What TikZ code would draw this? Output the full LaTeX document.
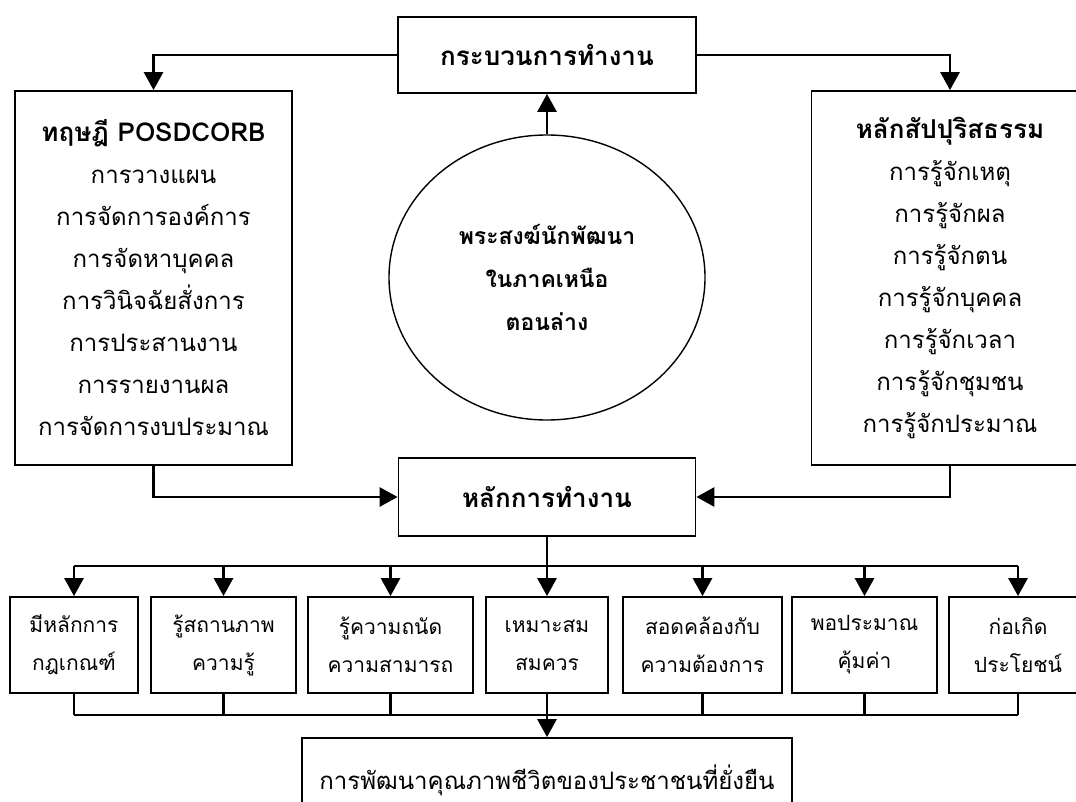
\documentclass[tikz,border=0pt]{standalone}
\usepackage{fontspec}
\setmainfont[Script=Thai]{Loma}
\usetikzlibrary{arrows.meta,shapes.geometric}
\begin{document}
\begin{tikzpicture}[x=1pt,y=-1pt,
  box/.style={draw, line width=1.8pt, rectangle, inner sep=0pt, align=center},
  conn/.style={line width=2.8pt},
  arr/.style={conn, -{Triangle[length=18pt,width=19pt]}},
  big/.style={font=\fontsize{24}{42}\selectfont},
  small/.style={font=\fontsize{21}{38}\selectfont},
  hd/.style={font=\fontsize{26}{42}\selectfont\bfseries}
]
\path[use as bounding box, clip] (0,0) rectangle (1076,802);
\fill[white] (0,0) rectangle (1076,802);

\node[box, hd, minimum width=298pt, minimum height=76pt] (T) at (547,55) {กระบวนการทำงาน};
\node[box, big, minimum width=277pt, minimum height=374pt] (L) at (153.5,278)
  {{\fontsize{26}{42}\selectfont\bfseries ทฤษฎี POSDCORB}\\การวางแผน\\การจัดการองค์การ\\การจัดหาบุคคล\\การวินิจฉัยสั่งการ\\การประสานงาน\\การรายงานผล\\การจัดการงบประมาณ};
\node[box, big, minimum width=277pt, minimum height=374pt] (R) at (950,278)
  {{\fontsize{26}{42}\selectfont\bfseries หลักสัปปุริสธรรม}\\การรู้จักเหตุ\\การรู้จักผล\\การรู้จักตน\\การรู้จักบุคคล\\การรู้จักเวลา\\การรู้จักชุมชน\\การรู้จักประมาณ};
\node[draw, ellipse, line width=1.4pt, inner sep=0pt, align=center, minimum width=316pt, minimum height=285pt,
  font=\fontsize{23}{43}\selectfont\bfseries] (C) at (547,277.5) {พระสงฆ์นักพัฒนา\\ในภาคเหนือ\\ตอนล่าง};
\node[box, hd, minimum width=297pt, minimum height=78pt] (M) at (547,497) {หลักการทำงาน};

\node[box, small, minimum width=128pt, minimum height=96pt] (b1) at (74,645) {มีหลักการ\\กฎเกณฑ์};
\node[box, small, minimum width=145pt, minimum height=96pt] (b2) at (223.5,645) {รู้สถานภาพ\\ความรู้};
\node[box, small, minimum width=165pt, minimum height=96pt] (b3) at (390.5,645) {รู้ความถนัด\\ความสามารถ};
\node[box, small, minimum width=122pt, minimum height=96pt] (b4) at (547,645) {เหมาะสม\\สมควร};
\node[box, small, minimum width=159pt, minimum height=96pt] (b5) at (702.5,645) {สอดคล้องกับ\\ความต้องการ};
\node[box, small, minimum width=145pt, minimum height=96pt] (b6) at (864.5,645) {พอประมาณ\\คุ้มค่า};
\node[box, small, minimum width=138pt, minimum height=96pt] (b7) at (1018,645) {ก่อเกิด\\ประโยชน์};

\node[box, big, minimum width=490pt, minimum height=84pt] (B) at (547,780) {การพัฒนาคุณภาพชีวิตของประชาชนที่ยั่งยืน};

\coordinate (bus) at (547,566);
\coordinate (lbus) at (547,715);

\draw[arr] (T.west) -| (L.north);
\draw[arr] (T.east) -| (R.north);
\draw[arr] (C.north) -- (T.south);
\draw[arr] (L.south) |- (M.west);
\draw[arr] (R.south) |- (M.east);

\draw[conn] (M.south) -- (bus);
\draw[conn] (b1.north |- bus) -- (b7.north |- bus);
\foreach \b in {b1,b2,b3,b4,b5,b6,b7} {
  \draw[arr] (\b.north |- bus) -- (\b.north);
  \draw[conn] (\b.south) -- (\b.south |- lbus);
}
\draw[conn] (b1.south |- lbus) -- (b7.south |- lbus);
\draw[arr] (lbus) -- (B.north);
\end{tikzpicture}
\end{document}
